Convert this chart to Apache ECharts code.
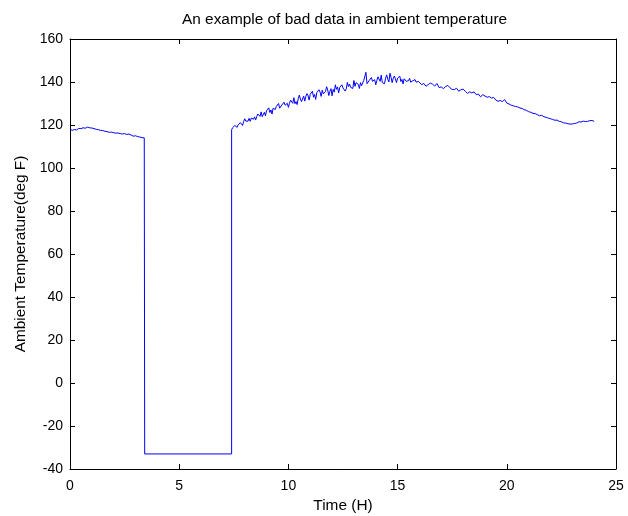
<!DOCTYPE html>
<html>
<head>
<meta charset="utf-8">
<script src="https://cdn.jsdelivr.net/npm/echarts@6/dist/echarts.min.js"></script>
<style>
html,body{margin:0;padding:0;background:#fff;}
#c{width:628px;height:516px;}
</style>
</head>
<body>
<div id="c"></div>
<script>
// Segment before the sensor fault (hours 0.0 .. 3.4, every 0.1 h)
const segAStart = 0.0, segAStep = 0.1;
const segAValues = [118.2,117.5,117.9,117.7,118.4,118.3,118.7,118.5,119.0,118.7,
  118.6,118.3,118.0,117.8,117.5,117.4,117.1,116.9,116.6,116.7,
  116.4,116.2,116.3,116.0,115.8,116.0,115.6,115.8,115.3,114.8,
  115.0,114.6,114.4,114.1,114.0];

// Bad data block
const badStart = 3.42, badEnd = 7.4, badValue = -33;

// Noisy recovery segment (hours 7.40 .. 16.00, every 0.05 h)
const segBStart = 7.4, segBStep = 0.05;
const segBValues = [
  117.8,118.8,118.7,119.8,118.9,118.9,120.1,120.2,121.1,120.6,
  119.8,121.6,122.9,121.8,121.2,121.8,123.1,121.7,123.2,124.1,
  122.7,123.8,122.3,123.9,125.1,124.8,124.0,126.1,123.9,124.8,
  125.9,124.3,126.7,126.2,128.0,125.8,127.0,125.1,127.8,127.1,
  127.2,128.7,128.2,130.0,127.8,127.3,129.3,129.1,130.6,129.2,
  128.7,130.1,128.2,130.1,131.6,131.2,130.1,132.7,129.9,130.9,
  129.5,132.3,133.9,132.1,130.9,131.7,133.4,131.1,133.3,134.6,
  133.6,131.6,134.3,133.6,135.7,132.9,134.2,131.9,135.1,134.2,
  136.4,135.3,133.3,136.2,134.5,134.0,135.6,137.8,136.3,133.7,
  135.6,136.9,133.6,136.5,135.3,138.7,136.6,137.7,134.9,137.5,
  136.7,138.7,137.2,137.9,135.8,136.8,139.8,137.9,139.0,137.5,
  137.8,137.0,140.7,138.0,139.7,140.4,138.9,137.0,139.7,138.3,
  139.0,140.7,139.9,144.5,139.2,138.4,140.7,140.3,142.1,140.3,
  139.6,141.1,138.7,140.7,142.4,141.8,140.3,143.2,139.7,140.6,
  139.2,141.8,143.3,141.3,140.0,144.1,142.2,139.7,141.7,142.8,
  141.5,139.7,141.8,141.1,142.7,140.2,141.2,139.1,141.5,140.6,
  140.3,141.1,140.6,141.7,139.9,139.4,140.6,140.2,141.1,139.9,
  139.5,140.3,139.6];

// Evening segment (hours 16.1 .. 24.0, every 0.1 h)
const segCStart = 16.1, segCStep = 0.1;
const segCValues = [
  138.8,139.3,138.0,138.8,139.5,139.0,138.1,139.3,137.4,137.7,
  136.9,137.9,138.4,137.3,136.5,136.5,137.1,135.7,136.4,136.7,
  135.7,134.7,135.4,134.9,135.4,134.1,134.4,133.1,134.1,133.5,
  132.9,133.2,132.5,132.8,131.6,131.0,131.4,130.9,131.8,130.2,
  129.8,129.2,128.9,128.6,128.4,127.9,127.7,127.1,126.8,126.2,
  125.9,125.4,125.3,124.8,124.3,124.5,123.8,123.6,123.2,122.9,
  122.6,122.2,122.3,121.7,121.5,121.0,120.9,120.6,120.4,120.5,
  120.7,120.9,121.5,121.4,121.8,121.6,121.7,122.0,122.1,121.7];

const xTicks = [0, 5, 10, 15, 20, 25];
const yTicks = [-40, -20, 0, 20, 40, 60, 80, 100, 120, 140, 160];

const titleText = 'An example of bad data in ambient temperature';
const xLabel = 'Time (H)';
const yLabel = 'Ambient Temperature(deg F)';

function seg(start, step, vals) {
  return vals.map((v, i) => [+(start + i * step).toFixed(3), v]);
}
const data = [].concat(
  seg(segAStart, segAStep, segAValues),
  [[badStart, segAValues[segAValues.length - 1]], [badStart, badValue], [badEnd, badValue]],
  seg(segBStart, segBStep, segBValues),
  seg(segCStart, segCStep, segCValues)
);

const font = 'Liberation Sans, Arial, sans-serif';
const chart = echarts.init(document.getElementById('c'), null, {renderer: 'canvas'});

const xMin = xTicks[0], xMax = xTicks[xTicks.length - 1], xInt = xTicks[1] - xTicks[0];
const yMin = yTicks[0], yMax = yTicks[yTicks.length - 1], yInt = yTicks[1] - yTicks[0];

function axLine() { return {show: true, onZero: false, lineStyle: {color: '#000', width: 1}}; }
function axTick() { return {show: true, inside: true, length: 5, lineStyle: {color: '#000', width: 1}}; }

chart.setOption({
  animation: false,
  backgroundColor: '#fff',
  title: {
    text: titleText, left: 177, top: 7,
    textStyle: {fontFamily: font, fontSize: 15.4, fontWeight: 'normal', color: '#000'}
  },
  grid: {left: 70, right: 12, top: 39, bottom: 47, containLabel: false, outerBoundsMode: 'none'},
  xAxis: [{
    type: 'value', min: xMin, max: xMax, interval: xInt, position: 'bottom',
    name: xLabel, nameLocation: 'middle', nameGap: 29,
    nameTextStyle: {fontFamily: font, fontSize: 15.4, color: '#000'},
    axisLine: axLine(), axisTick: axTick(),
    axisLabel: {fontFamily: font, fontSize: 14, color: '#000', margin: 10},
    splitLine: {show: false}
  }, {
    type: 'value', min: xMin, max: xMax, interval: xInt, position: 'top',
    axisLine: axLine(), axisTick: axTick(),
    axisLabel: {show: false}, splitLine: {show: false}
  }],
  yAxis: [{
    type: 'value', min: yMin, max: yMax, interval: yInt, position: 'left',
    name: yLabel, nameLocation: 'middle', nameGap: 42,
    nameTextStyle: {fontFamily: font, fontSize: 15.4, color: '#000'},
    axisLine: axLine(), axisTick: axTick(),
    axisLabel: {fontFamily: font, fontSize: 14, color: '#000', margin: 7},
    splitLine: {show: false}
  }, {
    type: 'value', min: yMin, max: yMax, interval: yInt, position: 'right',
    axisLine: axLine(), axisTick: axTick(),
    axisLabel: {show: false}, splitLine: {show: false}
  }],
  series: [{
    type: 'line', data: data, xAxisIndex: 0, yAxisIndex: 0,
    showSymbol: false, symbol: 'none',
    lineStyle: {color: '#0000ff', width: 1}
  }]
});
</script>
</body>
</html>
